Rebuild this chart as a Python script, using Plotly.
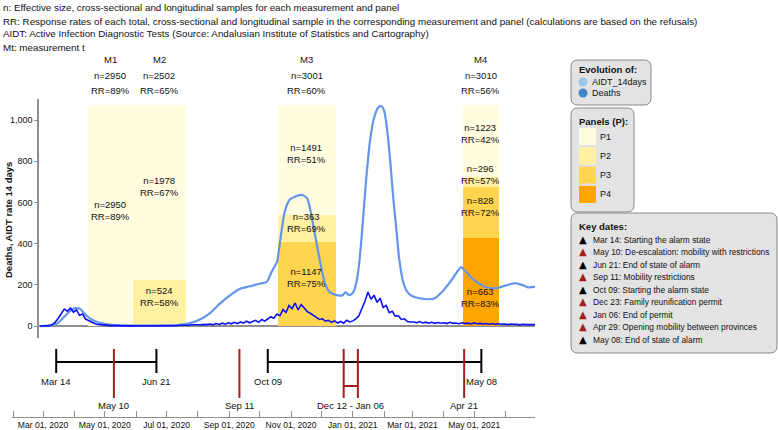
import plotly.graph_objects as go
import pandas as pd

# ---------------- DATA ----------------
aidt_dates = ["2020-02-27","2020-03-08","2020-03-15","2020-03-21","2020-03-27","2020-04-02","2020-04-07",
              "2020-04-12","2020-04-18","2020-04-26","2020-05-06","2020-05-21","2020-06-10","2020-06-29",
              "2020-07-14","2020-07-24","2020-08-03","2020-08-13","2020-08-23","2020-09-02","2020-09-11",
              "2020-09-21","2020-10-01","2020-10-08","2020-10-13","2020-10-18","2020-10-22","2020-10-26",
              "2020-10-31","2020-11-06","2020-11-12","2020-11-17","2020-11-21","2020-11-24","2020-11-29",
              "2020-12-04","2020-12-09","2020-12-16","2020-12-22","2020-12-25","2020-12-28","2021-01-01",
              "2021-01-04","2021-01-07","2021-01-10","2021-01-14","2021-01-18","2021-01-22","2021-01-26",
              "2021-01-29","2021-02-01","2021-02-04","2021-02-07","2021-02-10","2021-02-13","2021-02-16",
              "2021-02-20","2021-02-24","2021-03-01","2021-03-08","2021-03-16","2021-03-23","2021-03-30",
              "2021-04-07","2021-04-13","2021-04-18","2021-04-23","2021-04-28","2021-05-04","2021-05-13",
              "2021-05-23","2021-06-02","2021-06-10","2021-06-17","2021-06-23","2021-06-30"]
aidt_values = [0, 2, 12, 40, 70, 87, 82, 55, 32, 16, 7, 3, 2, 3, 6, 14, 32, 63, 110, 150, 180,
               193, 205, 215, 265, 310, 440, 560, 615, 630, 636, 620, 540, 460, 330, 215, 165, 150,
               150, 165, 150, 160, 200, 290, 450, 700, 900, 1010, 1060, 1068, 1045, 950, 800, 620,
               470, 320, 210, 165, 145, 135, 130, 135, 165, 213, 255, 286, 262, 235, 212, 188, 184,
               198, 208, 200, 188, 190]

deaths_start = "2020-02-27"
deaths_step_days = 3
deaths_values = [0, 0, 0, 2, 7, 18, 38, 60, 82, 72, 88, 68, 78, 52, 58, 34, 26, 16, 12, 8, 6, 4, 3,
                 2, 3, 1, 2, 1, 1, 0, 1, 1, 0, 1, 0, 1, 1, 2, 1, 2, 1, 2, 3, 2, 3, 2, 4, 3, 5, 4, 6, 5, 7, 6, 8, 7,
                 10, 6, 12, 8, 14, 9, 16, 11, 18, 12, 20, 14, 24, 16, 22, 28, 18, 32, 24, 36,
                 45, 38, 58, 50, 80, 66, 100, 84, 112, 78, 104, 88, 70, 62, 50, 42, 32, 35, 24, 28,
                 18, 25, 15, 22, 14, 28, 20,
                 25, 35, 50, 85, 120, 165, 130, 150, 115, 135, 90, 100, 65, 72, 48, 50, 32, 35, 22, 20,
                 20, 16, 22, 15, 19, 14, 18, 13, 17, 14, 16, 12, 18, 13, 15, 11, 16, 12, 14, 10, 15,
                 11, 13, 10, 12, 9, 12, 8, 11, 9, 10, 7, 10, 8, 9, 6, 9, 7, 8, 6, 7]

meas_labels = ["M1", "M2", "M3", "M4"]
meas_start = ["2020-04-14", "2020-05-29", "2020-10-19", "2021-04-20"]
meas_end = ["2020-05-29", "2020-07-20", "2020-12-15", "2021-05-25"]
meas_n = [2950, 2502, 3001, 3010]
meas_rr = [89, 65, 60, 56]

seg_meas = [0, 1, 1, 2, 2, 2, 3, 3, 3, 3]
seg_panel = ["P1", "P2", "P1", "P3", "P2", "P1", "P4", "P3", "P2", "P1"]
seg_low = [0, 0, 225, 0, 409, 540, 0, 429, 673, 722]
seg_high = [1073, 225, 1073, 409, 540, 1073, 429, 673, 722, 1073]
seg_n = [2950, 524, 1978, 1147, 363, 1491, 663, 828, 296, 1223]
seg_rr = [89, 58, 67, 75, 69, 51, 83, 72, 57, 42]

panel_names = ["P1", "P2", "P3", "P4"]
panel_colors = ["#FFFCDF", "#FFF0A2", "#FFD54F", "#FFA500"]

period_start = ["2020-03-14", "2020-10-09"]
period_end = ["2020-06-21", "2021-05-08"]
black_dates = ["2020-03-14", "2020-06-21", "2020-10-09", "2021-05-08"]
black_labels = ["Mar 14", "Jun 21", "Oct 09", "May 08"]
red_dates = ["2020-05-10", "2020-09-11", "2021-04-21"]
red_labels = ["May 10", "Sep 11", "Apr 21"]
bracket_dates = ["2020-12-23", "2021-01-06"]
bracket_label = "Dec 12 - Jan 06"

key_texts = ["Mar 14: Starting the alarm state", "May 10: De-escalation: mobility with restrictions",
             "Jun 21: End of state of alarm", "Sep 11: Mobility restrictions", "Oct 09: Starting the alarm state",
             "Dec 23: Family reunification permit", "Jan 06: End of permit",
             "Apr 29: Opening mobility between provinces", "May 08: End of state of alarm"]
key_red = [False, True, False, True, False, True, True, True, False]

header_lines = ["n: Effective size, cross-sectional and longitudinal samples for each measurement and panel",
                "RR: Response rates of each total, cross-sectional and longitudinal sample in the corresponding measurement and panel (calculations are based on the refusals)",
                "AIDT: Active Infection Diagnostic Tests (Source: Andalusian Institute of Statistics and Cartography)",
                "Mt: measurement t"]

# ---------------- LAYOUT HELPERS ----------------
W, H = 778, 430
PL, PR, PT, PB = 12, 535, 99, 417   # plot area in pixels
FONT = "Liberation Sans, Arial, sans-serif"
RED = "#A51C1C"
GRAY = "#8f8f8f"


def px(x):
    return (x - PL) / (PR - PL)


def py(y):
    return (PB - y) / (PB - PT)


fig = go.Figure()

# panel bars
s = pd.to_datetime([meas_start[m] for m in seg_meas])
e = pd.to_datetime([meas_end[m] for m in seg_meas])
mid = s + (e - s) / 2
widths = [(b - a).total_seconds() * 1000 for a, b in zip(s, e)]
fig.add_trace(go.Bar(
    x=mid, y=[h - l for l, h in zip(seg_low, seg_high)], base=seg_low, width=widths,
    marker=dict(color=[panel_colors[panel_names.index(p)] for p in seg_panel], line=dict(width=0)),
    xaxis="x", yaxis="y", hoverinfo="skip"))

# lines
fig.add_trace(go.Scatter(x=pd.to_datetime(aidt_dates), y=aidt_values, mode="lines",
                         line=dict(color="#6495ED", width=2.2, shape="spline", smoothing=0.6),
                         xaxis="x", yaxis="y", name="AIDT_14days"))
d_dates = pd.date_range(deaths_start, periods=len(deaths_values), freq=f"{deaths_step_days}D")
fig.add_trace(go.Scatter(x=d_dates, y=deaths_values, mode="lines",
                         line=dict(color="#0A10F5", width=1.6),
                         xaxis="x", yaxis="y", name="Deaths"))

annotations = []
TXT = dict(color="#111", family=FONT)
# texts inside segments
seg_shift = [5, 6, 6, 6, 6, 6, -16, 6, 8, 8]
for i in range(len(seg_low)):
    annotations.append(dict(x=mid[i], y=(seg_low[i] + seg_high[i]) / 2, xref="x", yref="y",
                            xanchor="center", yanchor="middle",
                            text=f"n={seg_n[i]}<br>RR={seg_rr[i]}%", showarrow=False, yshift=seg_shift[i],
                            font=dict(size=9.5, **TXT)))


def label(txt, x, y, size=9, bold=False, xanchor="left", angle=0, color="#111", family=FONT):
    annotations.append(dict(x=px(x), y=py(y), xref="paper", yref="paper", xanchor=xanchor, yanchor="middle",
                            text=f"<b>{txt}</b>" if bold else txt, showarrow=False, textangle=angle,
                            font=dict(size=size, color=color, family=family)))


# measurement labels on top
ms = pd.to_datetime(meas_start)
me = pd.to_datetime(meas_end)
for i, lab in enumerate(meas_labels):
    m = ms[i] + (me[i] - ms[i]) / 2
    for txt, yy in [(lab, 59), (f"n={meas_n[i]}", 75.5), (f"RR={meas_rr[i]}%", 90.5)]:
        annotations.append(dict(x=m, y=py(yy), xref="x", yref="paper", xanchor="center", yanchor="middle",
                                text=txt, showarrow=False, font=dict(size=9.5, **TXT)))

# header
for k, t in enumerate(header_lines):
    label(t, 1, 8 + 13 * k, size=9.8)

# y title
label("Deaths, AIDT rate 14 days", 8, 220, size=9.5, bold=True, xanchor="center", angle=-90)

# ---------------- timeline ----------------
HL, CAP_LO, CAP_HI, RED_LO, BRK = 0.705, 0.564, 0.872, 0.244, 0.397
for a, b in zip(period_start, period_end):
    fig.add_trace(go.Scatter(x=[a, b, None, a, a, None, b, b],
                             y=[HL, HL, None, CAP_LO, CAP_HI, None, CAP_LO, CAP_HI],
                             mode="lines", line=dict(color="black", width=2),
                             xaxis="x2", yaxis="y2", hoverinfo="skip"))
for d in red_dates + bracket_dates:
    fig.add_trace(go.Scatter(x=[d, d], y=[RED_LO, CAP_HI], mode="lines", line=dict(color=RED, width=2),
                             xaxis="x2", yaxis="y2", hoverinfo="skip"))
fig.add_trace(go.Scatter(x=bracket_dates, y=[BRK, BRK], mode="lines", line=dict(color=RED, width=2),
                         xaxis="x2", yaxis="y2", hoverinfo="skip"))
for d, t in zip(black_dates, black_labels):
    annotations.append(dict(x=d, y=0.449, xref="x2", yref="y2", xanchor="center", yanchor="middle",
                            text=t, showarrow=False, font=dict(size=9.5, **TXT)))
bd = pd.to_datetime(bracket_dates)
for d, t in zip(red_dates + [bd[0] + (bd[1] - bd[0]) / 2], red_labels + [bracket_label]):
    annotations.append(dict(x=d, y=0.141, xref="x2", yref="y2", xanchor="center", yanchor="middle",
                            text=t, showarrow=False, font=dict(size=9.5, **TXT)))

# ---------------- legend boxes ----------------
shapes = []


def rrect(x0, y0, x1, y1, r=7):
    X = px
    Y = py
    p = (f"M {X(x0 + r)},{Y(y0)} L {X(x1 - r)},{Y(y0)} Q {X(x1)},{Y(y0)} {X(x1)},{Y(y0 + r)} "
         f"L {X(x1)},{Y(y1 - r)} Q {X(x1)},{Y(y1)} {X(x1 - r)},{Y(y1)} L {X(x0 + r)},{Y(y1)} "
         f"Q {X(x0)},{Y(y1)} {X(x0)},{Y(y1 - r)} L {X(x0)},{Y(y0 + r)} Q {X(x0)},{Y(y0)} {X(x0 + r)},{Y(y0)} Z")
    return dict(type="path", path=p, xref="paper", yref="paper", fillcolor="#E3E3E3",
                line=dict(color="#8a8a8a", width=1), layer="above")


shapes.append(rrect(571, 60, 651, 105))
shapes.append(rrect(571, 108, 634, 212))
shapes.append(rrect(571, 213, 777, 353))

label("Evolution of:", 577, 69, size=9.5, bold=True)
for txt, col, yy in [("AIDT_14days", "#9CC8E8", 82), ("Deaths", "#3E86C8", 93)]:
    shapes.append(dict(type="circle", xref="paper", yref="paper", xsizemode="pixel", ysizemode="pixel",
                       xanchor=px(583), yanchor=py(yy), x0=-4.5, x1=4.5, y0=-4.5, y1=4.5,
                       fillcolor=col, line=dict(width=0), layer="above"))
    label(txt, 590, yy)

label("Panels (P):", 577, 121, size=9.5, bold=True)
for k, (pn, col) in enumerate(zip(panel_names, panel_colors)):
    yy = 136.5 + 19.3 * k
    shapes.append(dict(type="rect", xref="paper", yref="paper", xsizemode="pixel", ysizemode="pixel",
                       xanchor=px(587.5), yanchor=py(yy), x0=-8.5, x1=8.5, y0=-8.5, y1=8.5,
                       fillcolor=col, line=dict(width=0), layer="above"))
    label(pn, 598, yy)

label("Key dates:", 577, 226, size=9.5, bold=True)
for k, (t, isred) in enumerate(zip(key_texts, key_red)):
    yy = 240 + 12.45 * k
    label("▲", 583, yy - 0.5, size=10, xanchor="center", color=RED if isred else "black", family="DejaVu Sans")
    label(t, 591, yy, size=8.4)

# ---------------- axes ----------------
main_dom_bottom = py(338)
fig.update_layout(
    width=W, height=H,
    margin=dict(l=PL, r=W - PR, t=PT, b=H - PB, pad=0),
    plot_bgcolor="white", paper_bgcolor="white",
    showlegend=False, barmode="overlay", bargap=0,
    font=dict(family=FONT, size=9, color="#111"),
    xaxis=dict(domain=[px(39), 1], range=["2020-02-26", "2021-06-30"], type="date", visible=False,
               anchor="y", automargin=False, fixedrange=True),
    yaxis=dict(domain=[main_dom_bottom, 1], range=[-58, 1102], anchor="x", showgrid=False,
               showline=True, linecolor=GRAY, linewidth=1.5, zeroline=True, zerolinecolor=GRAY,
               zerolinewidth=2, ticks="outside", ticklen=3, tickcolor=GRAY, tickvals=[0, 200, 400, 600, 800, 1000],
               tickformat=",", tickfont=dict(size=9, **TXT), automargin=False),
    xaxis2=dict(domain=[0, 1], range=["2020-01-30 08:00", "2021-06-30"], type="date", anchor="y2",
                showgrid=False, showline=True, linecolor=GRAY, linewidth=1, ticks="inside", ticklen=6,
                tickcolor=GRAY, dtick="M2", tick0="2020-03-01", tickformat="%b %d, %Y",
                tickfont=dict(size=8.6, **TXT),
                minor=dict(dtick="M1", tick0="2020-02-01", ticks="inside", ticklen=6, tickcolor=GRAY),
                zeroline=False, automargin=False),
    yaxis2=dict(domain=[0, main_dom_bottom - 0.003], range=[0, 1], anchor="x2", visible=False,
                automargin=False),
    annotations=annotations, shapes=shapes,
)

fig.write_html("out.html", config={"displayModeBar": False},
               post_script="document.body.style.margin='0';document.body.style.overflow='hidden';")
